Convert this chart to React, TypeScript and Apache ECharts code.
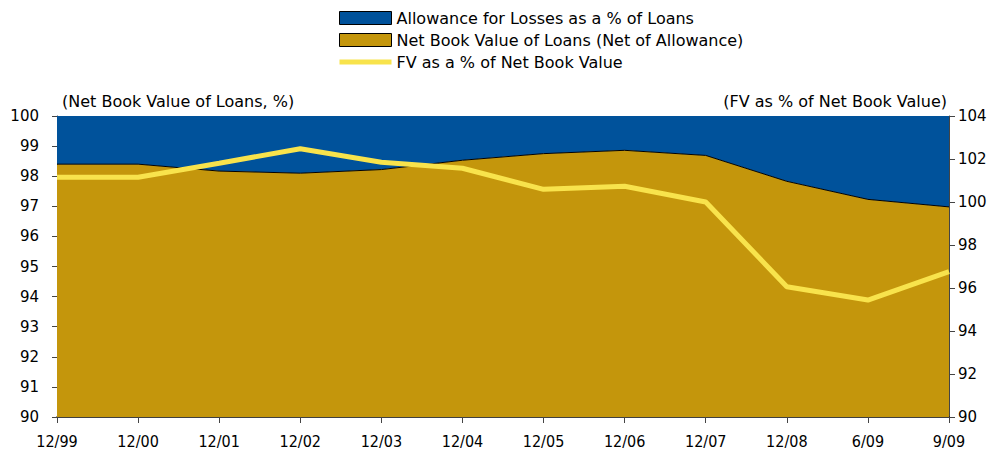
import React, { useEffect, useRef } from "react";
import * as echarts from "echarts";

const categories = ["12/99", "12/00", "12/01", "12/02", "12/03", "12/04", "12/05", "12/06", "12/07", "12/08", "6/09", "9/09"];
const netBookValue = [98.4, 98.4, 98.17, 98.1, 98.22, 98.53, 98.75, 98.86, 98.69, 97.83, 97.23, 96.98];
const allowance = [1.6, 1.6, 1.83, 1.9, 1.78, 1.47, 1.25, 1.14, 1.31, 2.17, 2.77, 3.02];
const fvPct = [101.15, 101.15, 101.8, 102.48, 101.85, 101.57, 100.59, 100.73, 100.0, 96.06, 95.44, 96.76];

const NAME_ALLOW = "Allowance for Losses as a % of Loans";
const NAME_NBV = "Net Book Value of Loans (Net of Allowance)";
const NAME_FV = "FV as a % of Net Book Value";

const FONT = "DejaVu Sans";
const FONT_C = "DejaVu Sans Condensed";
const BLUE = "#00529B";
const GOLD = "#C4960C";
const YELLOW = "#F8E34C";

export default function App() {
  const ref = useRef<HTMLDivElement>(null);
  useEffect(() => {
    const chart = echarts.init(ref.current!, null, { renderer: "svg" });
    chart.setOption({
      animation: false,
      textStyle: { fontFamily: FONT },
      legend: {
        orient: "vertical",
        left: 334,
        top: 5,
        itemWidth: 52,
        itemHeight: 13,
        itemGap: 6,
        textStyle: { fontFamily: FONT, fontSize: 16, color: "#000" },
        data: [
          { name: NAME_ALLOW, icon: "rect", itemStyle: { color: BLUE, borderColor: "#000", borderWidth: 1 } },
          { name: NAME_NBV, icon: "rect", itemStyle: { color: GOLD, borderColor: "#000", borderWidth: 1 } },
          { name: NAME_FV, icon: "path://M0,0 L52,0 L52,5 L0,5 Z", itemStyle: { color: YELLOW, borderWidth: 0 } },
        ],
      },
      graphic: [
        { type: "text", left: 62, top: 93, style: { text: "(Net Book Value of Loans, %)", font: `16px "${FONT}"`, fill: "#000" } },
        { type: "text", right: 58, top: 93, style: { text: "(FV as % of Net Book Value)", font: `16px "${FONT}"`, fill: "#000" } },
      ],
      grid: { left: 57, right: 56, top: 116, bottom: 41 },
      xAxis: {
        type: "category",
        data: categories,
        boundaryGap: false,
        axisLine: { lineStyle: { color: "#000", width: 1.5 } },
        axisTick: { show: true, length: 6, lineStyle: { color: "#444" }, alignWithLabel: true },
        axisLabel: { color: "#000", fontSize: 16, fontFamily: FONT_C, margin: 16, interval: 0 },
        splitLine: { show: false },
      },
      yAxis: [
        {
          type: "value",
          min: 90,
          max: 100,
          interval: 1,
          axisLine: { show: true, lineStyle: { color: "#444" } },
          axisTick: { show: true, length: 5, lineStyle: { color: "#444" } },
          axisLabel: { color: "#000", fontSize: 15, fontFamily: FONT, margin: 18 },
          splitLine: { show: false },
        },
        {
          type: "value",
          min: 90,
          max: 104,
          interval: 2,
          position: "right",
          axisLine: { show: true, lineStyle: { color: "#444" } },
          axisTick: { show: true, length: 6, lineStyle: { color: "#444" } },
          axisLabel: { color: "#000", fontSize: 15, fontFamily: FONT, margin: 9 },
          splitLine: { show: false },
        },
      ],
      series: [
        {
          name: NAME_NBV,
          type: "line",
          stack: "loans",
          data: netBookValue,
          yAxisIndex: 0,
          symbol: "none",
          lineStyle: { color: "#000", width: 1 },
          itemStyle: { color: GOLD },
          areaStyle: { color: GOLD, opacity: 1 },
          z: 2,
        },
        {
          name: NAME_ALLOW,
          type: "line",
          stack: "loans",
          data: allowance,
          yAxisIndex: 0,
          symbol: "none",
          lineStyle: { width: 0, color: BLUE },
          itemStyle: { color: BLUE },
          areaStyle: { color: BLUE, opacity: 1 },
          z: 1,
        },
        {
          name: NAME_FV,
          type: "line",
          data: fvPct,
          yAxisIndex: 1,
          symbol: "none",
          lineStyle: { color: YELLOW, width: 5 },
          itemStyle: { color: YELLOW },
          z: 5,
        },
      ],
    });
    return () => chart.dispose();
  }, []);
  return (
    <div style={{ position: "fixed", left: 0, top: 0, width: 1005, height: 458, background: "#fff" }}>
      <div ref={ref} style={{ width: 1005, height: 458 }} />
    </div>
  );
}
